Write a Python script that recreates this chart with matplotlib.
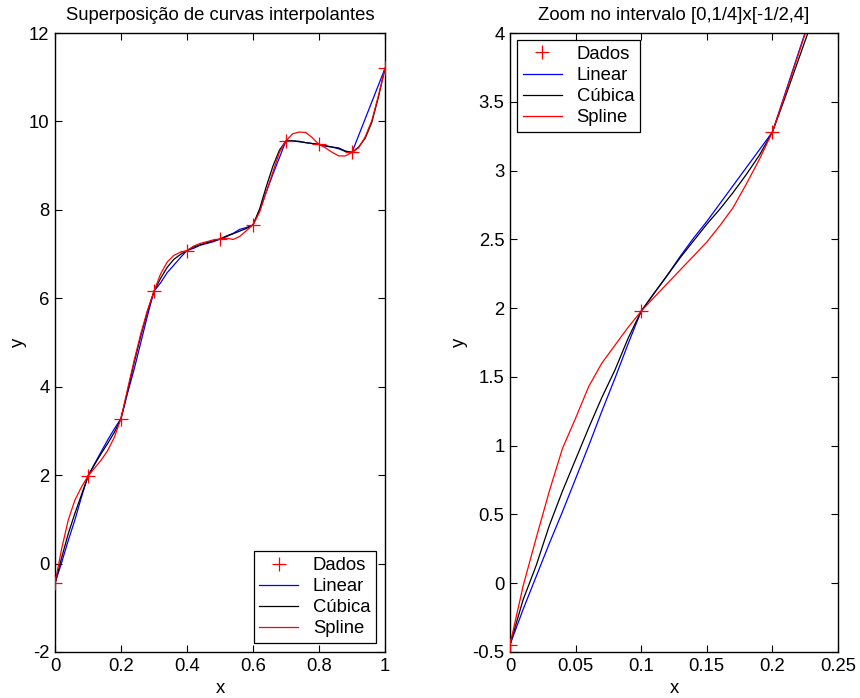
import matplotlib
matplotlib.use('Agg')
import matplotlib.pyplot as plt
from matplotlib.ticker import FuncFormatter

plt.rcParams['font.family'] = ['Liberation Sans', 'DejaVu Sans']
plt.rcParams['font.size'] = 13.3

# data points
x_dados = [0.0, 0.1, 0.2, 0.3, 0.4, 0.5, 0.6, 0.7, 0.8, 0.9, 1.0]
y_dados = [-0.447, 1.978, 3.28, 6.16, 7.08, 7.34, 7.66, 9.56, 9.48, 9.30, 11.2]

# curves over [0,1], step 0.02
x_full = [0.00, 0.02, 0.04, 0.06, 0.08, 0.10, 0.12, 0.14, 0.16, 0.18,
          0.20, 0.22, 0.24, 0.26, 0.28, 0.30, 0.32, 0.34, 0.36, 0.38,
          0.40, 0.42, 0.44, 0.46, 0.48, 0.50, 0.52, 0.54, 0.56, 0.58,
          0.60, 0.62, 0.64, 0.66, 0.68, 0.70, 0.72, 0.74, 0.76, 0.78,
          0.80, 0.82, 0.84, 0.86, 0.88, 0.90, 0.92, 0.94, 0.96, 0.98, 1.00]
y_linear = [-0.447, 0.02, 0.52, 0.98, 1.50, 1.978, 2.26, 2.53, 2.80, 3.05,
            3.28, 3.86, 4.40, 5.00, 5.60, 6.16, 6.35, 6.58, 6.75, 6.92,
            7.08, 7.13, 7.20, 7.24, 7.28, 7.34, 7.41, 7.47, 7.56, 7.60,
            7.66, 7.98, 8.40, 8.80, 9.18, 9.56, 9.56, 9.54, 9.52, 9.50,
            9.48, 9.44, 9.42, 9.38, 9.32, 9.30, 9.68, 10.06, 10.44, 10.82, 11.2]
y_cubica = [-0.447, 0.13, 0.67, 1.13, 1.55, 1.978, 2.24, 2.49, 2.72, 2.97,
            3.28, 3.90, 4.55, 5.15, 5.70, 6.16, 6.45, 6.70, 6.88, 6.99,
            7.08, 7.16, 7.21, 7.26, 7.30, 7.34, 7.40, 7.46, 7.52, 7.58,
            7.66, 8.02, 8.52, 8.98, 9.35, 9.56, 9.56, 9.55, 9.52, 9.50,
            9.48, 9.45, 9.42, 9.40, 9.33, 9.30, 9.42, 9.62, 9.98, 10.55, 11.2]
y_spline = [-0.447, 0.33, 0.98, 1.43, 1.73, 1.978, 2.16, 2.34, 2.56, 2.86,
            3.28, 3.95, 4.60, 5.20, 5.72, 6.16, 6.55, 6.82, 6.97, 7.04,
            7.08, 7.18, 7.24, 7.28, 7.32, 7.34, 7.36, 7.33, 7.40, 7.53,
            7.66, 7.95, 8.40, 8.85, 9.30, 9.56, 9.72, 9.76, 9.75, 9.63,
            9.48, 9.40, 9.30, 9.22, 9.22, 9.30, 9.40, 9.65, 10.02, 10.58, 11.2]

# curves over [0,0.23], step 0.01
x_zoom = [0.00, 0.01, 0.02, 0.03, 0.04, 0.05, 0.06, 0.07, 0.08, 0.09, 0.10, 0.11,
          0.12, 0.13, 0.14, 0.15, 0.16, 0.17, 0.18, 0.19, 0.20, 0.21, 0.22, 0.23]
yz_linear = [-0.447, -0.19, 0.05, 0.29, 0.52, 0.76, 1.00, 1.25, 1.49, 1.74, 1.978, 2.11,
             2.24, 2.38, 2.51, 2.63, 2.76, 2.89, 3.02, 3.15, 3.28, 3.57, 3.86, 4.15]
yz_cubica = [-0.447, -0.12, 0.13, 0.42, 0.67, 0.90, 1.13, 1.35, 1.55, 1.78, 1.978, 2.11,
             2.24, 2.37, 2.49, 2.61, 2.72, 2.84, 2.97, 3.11, 3.28, 3.54, 3.81, 4.08]
yz_spline = [-0.447, -0.02, 0.33, 0.67, 0.98, 1.20, 1.43, 1.60, 1.73, 1.86, 1.978, 2.08,
             2.18, 2.28, 2.38, 2.48, 2.60, 2.73, 2.90, 3.08, 3.28, 3.56, 3.85, 4.14]

fig = plt.figure(figsize=(8.6, 6.98), dpi=100)
ax1 = fig.add_axes([55/860, 46/698, 330/860, 619/698])
ax2 = fig.add_axes([510/860, 46/698, 328/860, 619/698])

lw = 0.9
for ax, xs, yl, yc, ys in [(ax1, x_full, y_linear, y_cubica, y_spline),
                           (ax2, x_zoom, yz_linear, yz_cubica, yz_spline)]:
    ax.plot(x_dados, y_dados, '+', color='red', markersize=10, markeredgewidth=0.9,
            label='Dados', zorder=5)
    ax.plot(xs, yl, '-', color='blue', lw=lw, label='Linear')
    ax.plot(xs, yc, '-', color='black', lw=lw, label='Cúbica')
    ax.plot(xs, ys, '-', color='red', lw=lw, label='Spline')
    ax.tick_params(direction='in', top=True, right=True, length=5, width=0.8,
                   labelsize=13.3, pad=4)
    for s in ax.spines.values():
        s.set_linewidth(1.0)
    ax.set_xlabel('x', labelpad=4)

ax1.set_ylabel('y', labelpad=1)
ax2.set_ylabel('y', labelpad=3)

fmt = FuncFormatter(lambda v, p: ('%g' % round(v, 4)))

ax1.set_xlim(0, 1)
ax1.set_ylim(-2, 12)
ax1.set_xticks([0, 0.2, 0.4, 0.6, 0.8, 1])
ax1.set_yticks([-2, 0, 2, 4, 6, 8, 10, 12])
ax1.xaxis.set_major_formatter(fmt)
ax1.yaxis.set_major_formatter(fmt)
ax1.set_title('Superposição de curvas interpolantes', fontsize=13.3, pad=9)
ax1.legend(loc='lower right', fancybox=False, edgecolor='black', framealpha=1,
           handlelength=2.1, borderaxespad=0.5, labelspacing=0.22, borderpad=0.3,
           handletextpad=0.8, fontsize=13.3).get_frame().set_linewidth(0.9)

ax2.set_xlim(0, 0.25)
ax2.set_ylim(-0.5, 4)
ax2.set_xticks([0, 0.05, 0.1, 0.15, 0.2, 0.25])
ax2.set_yticks([-0.5, 0, 0.5, 1, 1.5, 2, 2.5, 3, 3.5, 4])
ax2.xaxis.set_major_formatter(fmt)
ax2.yaxis.set_major_formatter(fmt)
ax2.set_title('Zoom no intervalo [0,1/4]x[-1/2,4]', fontsize=13.3, pad=9)
ax2.legend(loc='upper left', fancybox=False, edgecolor='black', framealpha=1,
           handlelength=2.1, borderaxespad=0.4, labelspacing=0.22, borderpad=0.3,
           handletextpad=0.8, fontsize=13.3).get_frame().set_linewidth(0.9)

fig.savefig('out.png', dpi=100)
